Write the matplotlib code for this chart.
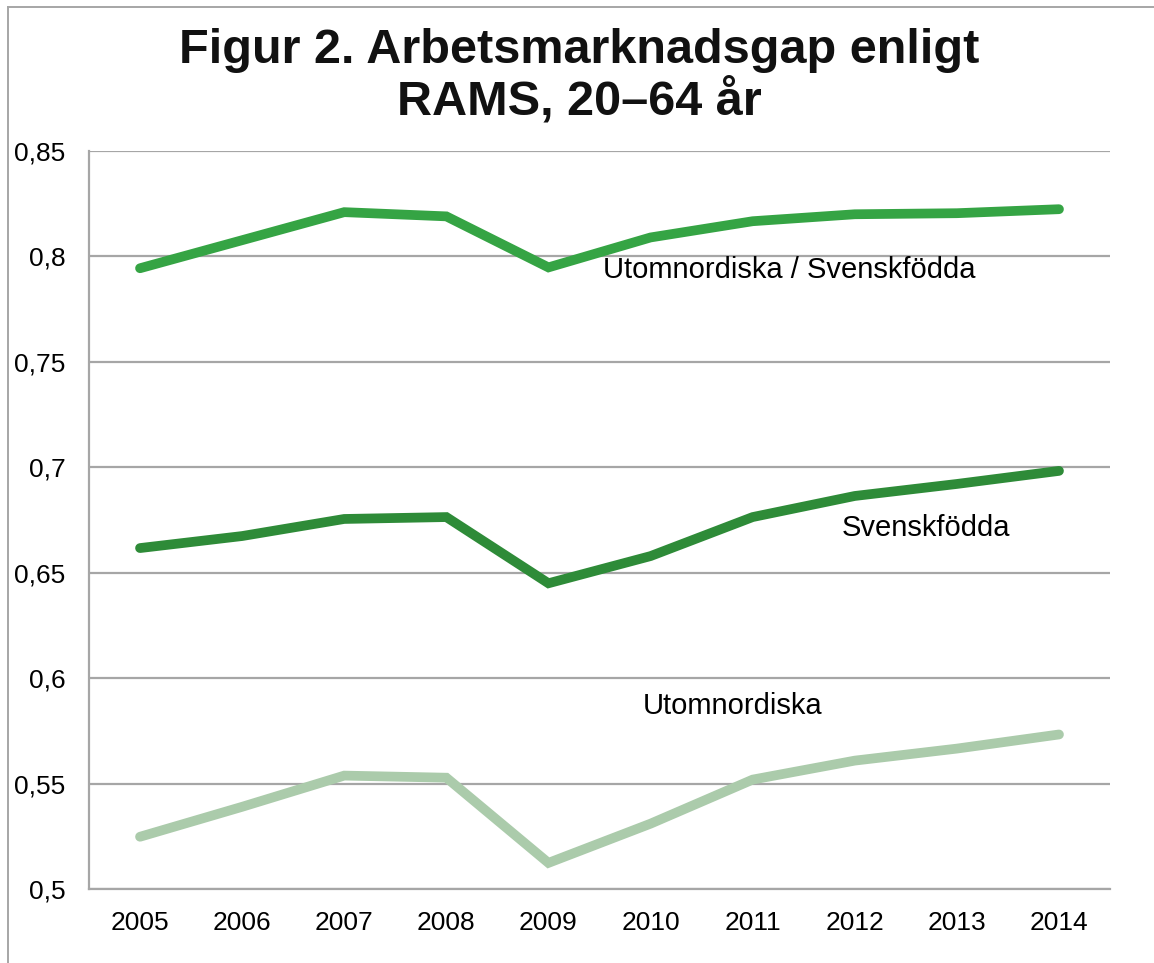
import numpy as np
import matplotlib.pyplot as plt
from matplotlib.lines import Line2D

years = ['2005', '2006', '2007', '2008', '2009', '2010', '2011', '2012', '2013', '2014']
kvot = [0.7944, 0.8077, 0.8210, 0.8190, 0.7948, 0.8090, 0.8167, 0.8200, 0.8205, 0.8224]
svenskfodda = [0.6617, 0.6674, 0.6755, 0.6764, 0.6450, 0.6579, 0.6764, 0.6864, 0.6921, 0.6983]
utomnordiska = [0.5248, 0.5390, 0.5538, 0.5528, 0.5124, 0.5310, 0.5519, 0.5609, 0.5666, 0.5733]
yticks = [0.5, 0.55, 0.6, 0.65, 0.7, 0.75, 0.8, 0.85]

plt.rcParams['font.family'] = ['Liberation Sans', 'DejaVu Sans']

fig = plt.figure(figsize=(11.54, 9.63), dpi=100)
ax = fig.add_axes([0.0771, 0.0768, 0.8848, 0.7664])

grey = '#a6a6a6'
x = np.arange(len(years))

# lines, drawn with round ends like the original
ax.plot(x, utomnordiska, color='#abcbab', lw=7, solid_capstyle='round', solid_joinstyle='miter', zorder=3)
ax.plot(x, svenskfodda, color='#2e8b38', lw=7, solid_capstyle='round', solid_joinstyle='miter', zorder=3)
ax.plot(x, kvot, color='#35a444', lw=7, solid_capstyle='round', solid_joinstyle='miter', zorder=3)

ax.text(4.53, 0.7934, 'Utomnordiska / Svenskfödda', fontsize=21, va='center', ha='left')
ax.text(6.875, 0.6712, 'Svenskfödda', fontsize=21, va='center', ha='left')
ax.text(4.926, 0.5866, 'Utomnordiska', fontsize=21, va='center', ha='left')

ax.set_xlim(-0.5, 9.5)
ax.set_ylim(0.5, 0.85)
ax.set_xticks(x)
ax.set_xticklabels(years, fontsize=19)
ax.set_yticks(yticks)
ax.set_yticklabels([('%g' % v).replace('.', ',') for v in yticks], fontsize=19)
ax.tick_params(axis='both', length=0)
ax.tick_params(axis='y', pad=17)
ax.tick_params(axis='x', pad=16)
ax.yaxis.grid(True, color=grey, lw=1.6)
ax.set_axisbelow(True)
for s in ['top', 'right']:
    ax.spines[s].set_visible(False)
for s in ['left', 'bottom']:
    ax.spines[s].set_color(grey)
    ax.spines[s].set_linewidth(1.6)

fig.text(0.502, 0.948, 'Figur 2. Arbetsmarknadsgap enligt', fontsize=35,
         fontweight='bold', ha='center', va='center', color='#111111')
fig.text(0.502, 0.895, 'RAMS, 20\u201364 år', fontsize=35,
         fontweight='bold', ha='center', va='center', color='#111111')

# outer frame (only top and left edges fall inside the picture)
fig.add_artist(Line2D([8 / 1154, 1], [1 - 7 / 963, 1 - 7 / 963], color=grey, lw=1.4, transform=fig.transFigure))
fig.add_artist(Line2D([8 / 1154, 8 / 1154], [0, 1 - 7 / 963], color=grey, lw=1.4, transform=fig.transFigure))

fig.savefig('out.png', dpi=100)
